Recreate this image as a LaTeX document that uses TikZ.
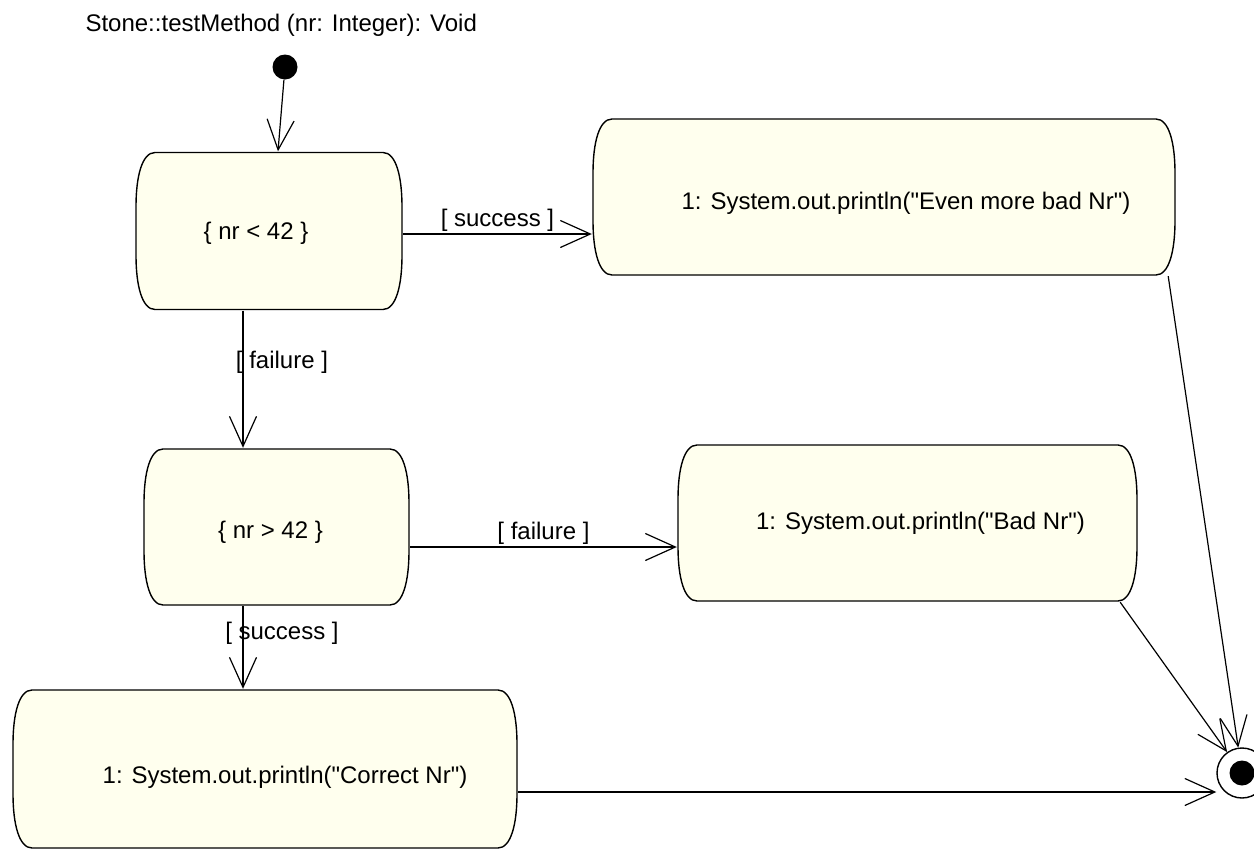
\documentclass[tikz,border=0pt]{standalone}
\usepackage{fontspec}
\newfontfamily\umlfont{Liberation Sans}
\usetikzlibrary{arrows.meta,calc}
\definecolor{actfill}{RGB}{255,255,238}
\begin{document}
\begin{tikzpicture}[x=1pt,y=-1pt,
        act/.style={rectangle,inner sep=0pt,fill=white,path picture={
          \draw[fill=actfill,line width=1.4pt] let \p1=(path picture bounding box.north west),\p2=(path picture bounding box.south east) in
            (\x1+20pt,\y1-1pt)--(\x2-20pt,\y1-1pt) .. controls (\x2-7pt,\y1-1pt) and (\x2-1pt,\y1-25pt) .. (\x2-1pt,\y1-55pt)
            --(\x2-1pt,\y2+55pt) .. controls (\x2-1pt,\y2+25pt) and (\x2-7pt,\y2+1pt) .. (\x2-20pt,\y2+1pt)
            --(\x1+20pt,\y2+1pt) .. controls (\x1+7pt,\y2+1pt) and (\x1+1pt,\y2+25pt) .. (\x1+1pt,\y2+55pt)
            --(\x1+1pt,\y1-55pt) .. controls (\x1+1pt,\y1-25pt) and (\x1+7pt,\y1-1pt) .. (\x1+20pt,\y1-1pt)--cycle;}},
        flow/.style={line width=1.2pt,-{Straight Barb[length=30pt,width=27pt]}},
        lbl/.style={inner sep=2pt},
        font=\umlfont\fontsize{24}{29}\selectfont]
        \useasboundingbox (0,0) rectangle (1254,849);
        \node[anchor=base west](title) at (82,31){Stone::testMethod (nr: Integer): Void};
        \node[circle,fill=black,inner sep=0pt,minimum size=25pt](init) at (285,67){};
        \node[act,minimum width=268pt,minimum height=159pt,label={[xshift=-13pt,yshift=-2pt]center:\{ nr < 42 \}}](n1) at (269,231){};
        \node[act,minimum width=584pt,minimum height=158pt,label={[xshift=22pt,yshift=-6pt]center:1: System.out.println("Even more bad Nr")}](n2) at (884,197){};
        \node[act,minimum width=267pt,minimum height=158pt,label={[xshift=-6pt,yshift=-5pt]center:\{ nr > 42 \}}](n3) at (276.5,527){};
        \node[act,minimum width=461pt,minimum height=158pt,label={[xshift=13pt]center:1: System.out.println("Bad Nr")}](n4) at (907.5,523){};
        \node[act,minimum width=506pt,minimum height=160pt,label={[xshift=20pt,yshift=-8pt]center:1: System.out.println("Correct Nr")}](n5) at (265,769){};
        \node[circle,draw,line width=1.4pt,fill=white,inner sep=0pt,minimum size=50pt,
          path picture={\fill[black](path picture bounding box.center) circle (12.5pt);}](fin) at (1242,773){};
        \draw[flow](init)--([xshift=9pt]n1.north);
        \draw[flow]([yshift=-3pt]n1.east)--([yshift=-3pt]n1.east -| n2.west)node[lbl,midway,above]{[ success ]};
        \draw[flow]([xshift=-26pt]n1.south)--([xshift=-26pt]n1.south |- n3.north)node[lbl,pos=.377,xshift=39pt]{[ failure ]};
        \draw[flow]([yshift=-20pt]n3.east)--([yshift=-20pt]n3.east -| n4.west)node[lbl,midway,above]{[ failure ]};
        \draw[flow]([xshift=-33.5pt]n3.south)--([xshift=-33.5pt]n3.south |- n5.north)node[lbl,pos=.325,xshift=39pt]{[ success ]};
        \draw[flow]([xshift=-8pt]n2.south east)--(fin);
        \draw[flow]([xshift=-18pt]n4.south east)--(fin);
        \draw[flow]([yshift=-23pt]n5.east)--([yshift=-23pt]n5.east -| fin.west);
      \end{tikzpicture}
\end{document}
